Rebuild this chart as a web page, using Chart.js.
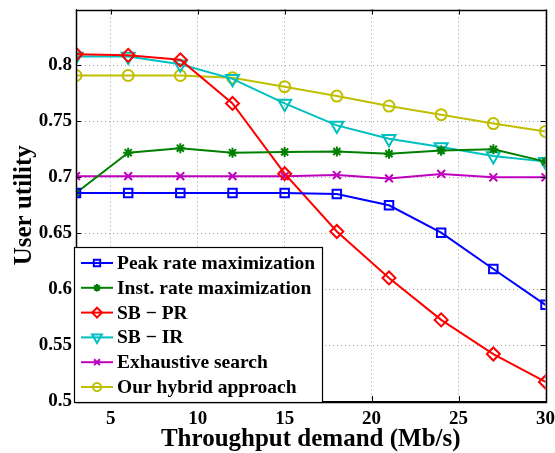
<!DOCTYPE html>
<html><head><meta charset="utf-8">
<script src="https://cdn.jsdelivr.net/npm/chart.js@4"></script>
<style>html,body{margin:0;padding:0;background:#fff}#wrap{width:555px;height:453px;position:relative}</style>
</head><body><div id="wrap"><canvas id="c"></canvas></div>
<script>
const demand = [3, 6, 9, 12, 15, 18, 21, 24, 27, 30];
const peakRate = [0.686, 0.686, 0.686, 0.686, 0.686, 0.685, 0.675, 0.6505, 0.618, 0.586];
const instRate = [0.686, 0.722, 0.726, 0.722, 0.7226, 0.723, 0.721, 0.724, 0.725, 0.714];
const sbPR = [0.810, 0.809, 0.805, 0.766, 0.7032, 0.6515, 0.610, 0.5725, 0.542, 0.517];
const sbIR = [0.808, 0.808, 0.801, 0.788, 0.766, 0.7464, 0.7345, 0.727, 0.719, 0.714];
const exhaustive = [0.701, 0.701, 0.701, 0.701, 0.701, 0.702, 0.699, 0.703, 0.700, 0.700];
const hybrid = [0.791, 0.791, 0.791, 0.789, 0.781, 0.7726, 0.7637, 0.756, 0.748, 0.741];
const xTicks = [5, 10, 15, 20, 25, 30];
const yTicks = [0.5, 0.55, 0.6, 0.65, 0.7, 0.75, 0.8];
const seriesNames = ['Peak rate maximization', 'Inst. rate maximization', 'SB \u2212 PR', 'SB \u2212 IR', 'Exhaustive search', 'Our hybrid approach'];
const xTitle = 'Throughput demand (Mb/s)';
const yTitle = 'User utility';

const FONT = '"Liberation Serif", "Times New Roman", serif';

function mk(label, data, color, style, r, rot) {
  return {
    label, data: demand.map((x, i) => ({x, y: data[i]})),
    borderColor: color, backgroundColor: 'rgba(0,0,0,0)',
    pointBorderColor: color, pointBackgroundColor: 'rgba(0,0,0,0)',
    borderWidth: 2, pointBorderWidth: 2, pointStyle: style, pointRadius: r,
    pointHoverRadius: r, pointRotation: rot || 0, tension: 0, fill: false
  };
}

const datasets = [
  mk(seriesNames[0], peakRate, '#0000ff', 'rect', 6),
  mk(seriesNames[1], instRate, '#008000', 'star', 5),
  mk(seriesNames[2], sbPR, '#ff0000', 'rectRot', 6.5),
  mk(seriesNames[3], sbIR, '#00bfbf', 'triangle', 7.5, 180),
  mk(seriesNames[4], exhaustive, '#bf00bf', 'crossRot', 5.5),
  mk(seriesNames[5], hybrid, '#bfbf00', 'circle', 5.5)
];

const frame = {
  id: 'frame',
  afterDatasetsDraw(chart) {
    const {ctx, chartArea: a, scales} = chart;
    ctx.save();
    ctx.strokeStyle = '#000'; ctx.lineWidth = 1;
    ctx.beginPath();
    const L = 5;
    scales.x.ticks.forEach(t => {
      const px = Math.round(scales.x.getPixelForValue(t.value)) + 0.5;
      ctx.moveTo(px, a.bottom); ctx.lineTo(px, a.bottom - L);
      ctx.moveTo(px, a.top); ctx.lineTo(px, a.top + L);
    });
    scales.y.ticks.forEach(t => {
      const py = Math.round(scales.y.getPixelForValue(t.value)) + 0.5;
      ctx.moveTo(a.left, py); ctx.lineTo(a.left + L, py);
      ctx.moveTo(a.right, py); ctx.lineTo(a.right - L, py);
    });
    ctx.stroke();
    ctx.lineWidth = 1.5;
    ctx.strokeRect(Math.round(a.left) + 0.5, Math.round(a.top) + 0.5, Math.round(a.right - a.left), Math.round(a.bottom - a.top));
    ctx.restore();
  }
};

const boxLegend = {
  id: 'boxLegend',
  afterDraw(chart) {
    const {ctx, chartArea: a} = chart;
    const ds = chart.data.datasets;
    const x0 = a.left - 2, y1 = a.bottom + 1;
    const rowH = 24.8, w = 248, h = 155;
    const y0 = y1 - h;
    ctx.save();
    ctx.fillStyle = '#fff';
    ctx.fillRect(x0, y0, w, h);
    ctx.strokeStyle = '#000'; ctx.lineWidth = 1.2;
    ctx.strokeRect(x0 + 0.5, y0 + 0.5, w, h);
    ctx.font = 'bold 19.5px ' + FONT;
    ctx.textBaseline = 'middle';
    ds.forEach((d, i) => {
      const cy = y0 + 16 + i * rowH;
      ctx.strokeStyle = d.borderColor; ctx.lineWidth = 2;
      ctx.beginPath(); ctx.moveTo(x0 + 7, cy); ctx.lineTo(x0 + 39, cy); ctx.stroke();
      ctx.fillStyle = 'rgba(0,0,0,0)';
      Chart.helpers.drawPoint(ctx, {
        pointStyle: d.pointStyle, rotation: d.pointRotation, borderWidth: 2,
        radius: d.pointRadius * 0.75
      }, x0 + 23, cy);
      ctx.fillStyle = '#000';
      ctx.fillText(d.label, x0 + 43, cy + 1);
    });
    ctx.restore();
  }
};

const chart = new Chart(document.getElementById('c'), {
  type: 'line',
  data: {datasets},
  options: {
    responsive: true, maintainAspectRatio: false, animation: false,
    layout: {padding: {left: 0, right: 8, top: 5, bottom: 0}},
    plugins: {legend: {display: false}, tooltip: {enabled: false}},
    scales: {
      x: {
        type: 'linear', min: 3, max: 30,
        afterBuildTicks: s => { s.ticks = xTicks.map(v => ({value: v})); },
        afterFit: s => { s.height = 52; s.paddingLeft = 0; s.paddingRight = 0; },
        grid: {color: '#a0a0a0', lineWidth: 1, drawTicks: false},
        border: {display: true, color: '#000', width: 1, dash: [1, 3]},
        ticks: {color: '#000', font: {family: FONT, size: 19, weight: 'bold'}, padding: 7, maxRotation: 0},
        title: {display: true, text: xTitle, color: '#000', font: {family: FONT, size: 25, weight: 'bold', lineHeight: 1.1}, padding: {top: 0, bottom: 0}}
      },
      y: {
        type: 'linear', min: 0.5, max: 0.85,
        afterBuildTicks: s => { s.ticks = yTicks.map(v => ({value: v})); },
        afterFit: s => { s.width = 76; s.paddingTop = 0; s.paddingBottom = 0; },
        grid: {color: '#a0a0a0', lineWidth: 1, drawTicks: false},
        border: {display: true, color: '#000', width: 1, dash: [1, 3]},
        ticks: {color: '#000', font: {family: FONT, size: 19, weight: 'bold'}, padding: 4,
          callback: v => String(Number(v.toFixed(2)))},
        title: {display: true, text: yTitle, color: '#000', font: {family: FONT, size: 25, weight: 'bold'}, padding: {top: 10, bottom: 0}}
      }
    }
  },
  plugins: [frame, boxLegend]
});
</script></body></html>
